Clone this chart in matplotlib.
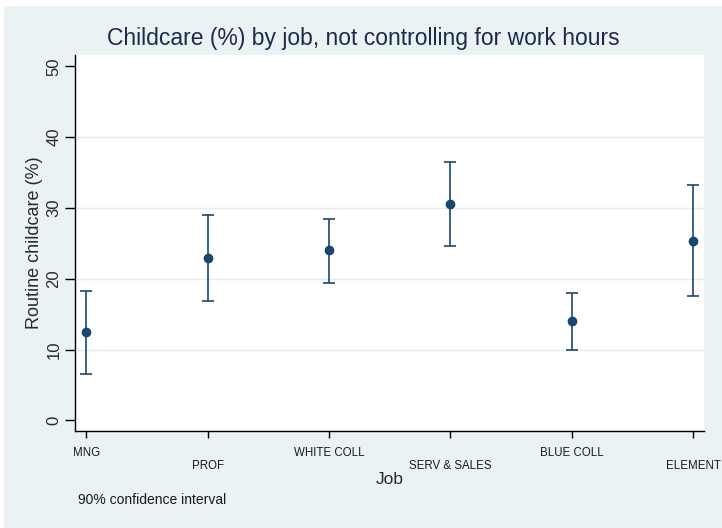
import numpy as np
import matplotlib.pyplot as plt
from matplotlib.patches import Rectangle

jobs = ["MNG", "PROF", "WHITE COLL", "SERV & SALES", "BLUE COLL", "ELEMENT"]
childcare = [12.5, 22.9, 24.0, 30.6, 14.0, 25.4]
ci_low = [6.5, 16.9, 19.4, 24.6, 9.9, 17.6]
ci_high = [18.2, 29.0, 28.5, 36.5, 18.0, 33.2]

navy = "#1a476f"
bg = "#eaf2f3"
sans = ["Liberation Sans", "DejaVu Sans"]

fig = plt.figure(figsize=(7.22, 5.28), dpi=100, facecolor="white")
fig.patches.append(Rectangle((4 / 722, 0), 1, 1 - 6 / 528, transform=fig.transFigure,
                             facecolor=bg, edgecolor="none", zorder=-10))

ax = fig.add_axes([75.3 / 722, 1 - 431.3 / 528, (704 - 75.3) / 722, (431.3 - 54.7) / 528])
ax.set_facecolor("white")

x = np.arange(len(jobs))
y = np.array(childcare)
lo = y - np.array(ci_low)
hi = np.array(ci_high) - y
ax.errorbar(x, y, yerr=[lo, hi], fmt="o", color=navy, ecolor=navy, elinewidth=1.2,
            capsize=4, capthick=1.2, markersize=6, zorder=3)

ax.set_xlim(-0.09, 5.09)
ax.set_ylim(-1.55, 51.65)
ax.set_yticks([0, 10, 20, 30, 40, 50])
for g in [10, 20, 30, 40]:
    ax.axhline(g, color="#e4eeef", lw=1.0, zorder=0)

for side in ["top", "right"]:
    ax.spines[side].set_visible(False)
for side in ["left", "bottom"]:
    ax.spines[side].set_linewidth(1.0)
    ax.spines[side].set_color("black")

ax.tick_params(axis="y", length=7, width=1, pad=3, labelsize=12, labelcolor="#2a2a2a")
for lab in ax.get_yticklabels():
    lab.set_rotation(90)
    lab.set_va("center")
    lab.set_family(sans)

ax.set_xticks(x)
ax.set_xticklabels([j if i % 2 == 0 else "\n" + j for i, j in enumerate(jobs)],
                   family=sans, fontsize=8.3, color="#1a1a1a")
ax.tick_params(axis="x", length=5, width=1, pad=6)

ax.set_ylabel("Routine childcare (%)", family=sans, fontsize=13, color="#2a2a2a")
ax.yaxis.set_label_coords(-(75.3 - 43) / (704 - 75.3), 0.5)
ax.set_xlabel("Job", family=sans, fontsize=12.5, color="#2a2a2a", labelpad=0)

fig.text(0.503, 0.928, "Childcare (%) by job, not controlling for work hours",
         family=sans, fontsize=16.5, color="#1c2b4d", ha="center", va="center")
fig.text(78 / 722, 1 - 500 / 528, "90% confidence interval", family=sans, fontsize=10,
         color="#1a1a1a", ha="left", va="center")

fig.savefig("out.png", dpi=100, facecolor=fig.get_facecolor())
